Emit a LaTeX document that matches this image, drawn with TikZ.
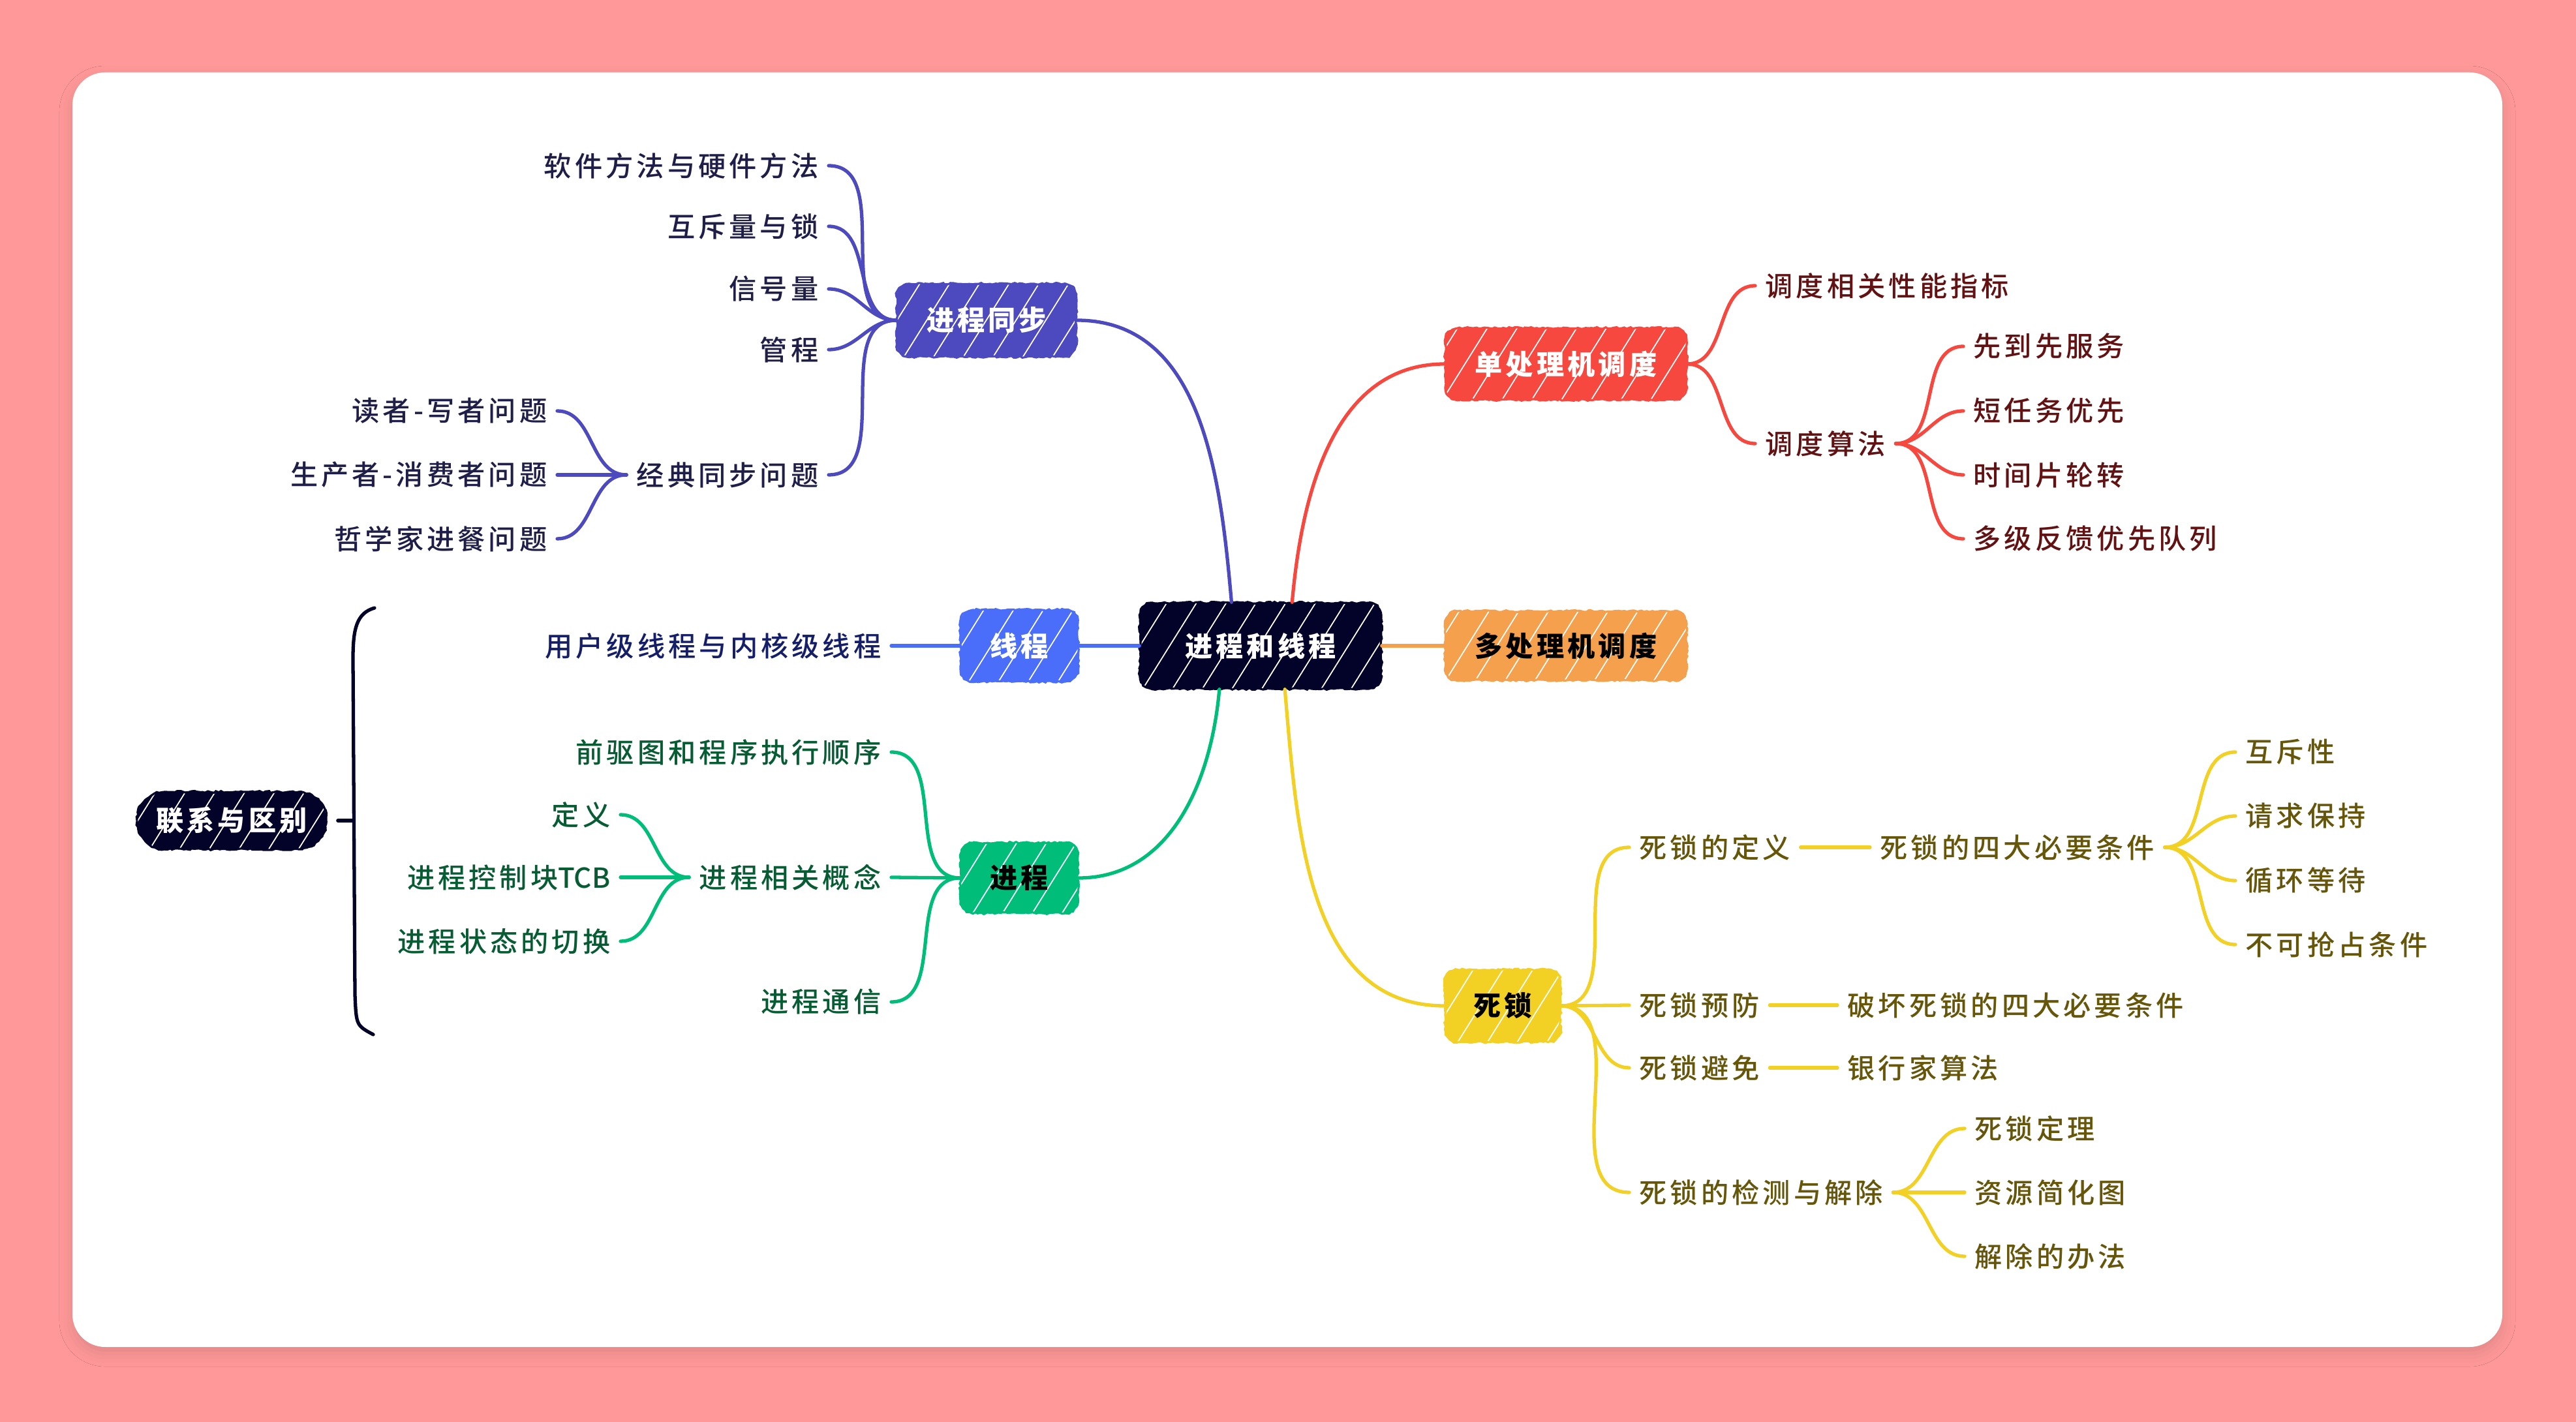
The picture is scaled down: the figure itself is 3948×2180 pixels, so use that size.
\documentclass[tikz,border=0pt]{standalone}
\usepackage{fontspec}
\setmainfont{Noto Sans CJK SC}[LetterSpace=12]
\newfontfamily\leaffont{Noto Sans CJK SC}[UprightFont=* Medium, LetterSpace=12]
\usetikzlibrary{positioning,calc,decorations.pathmorphing,patterns.meta,shadows.blur}
\definecolor{bgPink}{RGB}{255,153,153}
\definecolor{rootInk}{RGB}{3,2,40}
\definecolor{syncC}{RGB}{76,74,190}
\definecolor{syncText}{RGB}{30,30,72}
\definecolor{uniC}{RGB}{247,72,64}
\definecolor{uniText}{RGB}{98,18,18}
\definecolor{multiC}{RGB}{245,160,76}
\definecolor{thrC}{RGB}{74,110,250}
\definecolor{thrText}{RGB}{20,30,105}
\definecolor{procC}{RGB}{0,190,122}
\definecolor{procText}{RGB}{8,92,52}
\definecolor{deadC}{RGB}{242,208,36}
\definecolor{deadText}{RGB}{102,86,10}
\newcommand\topicfont{\fontsize{12pt}{14pt}\selectfont\bfseries}
\newcommand\leafsize{\leaffont\fontsize{12pt}{14pt}\selectfont}

\begin{document}
\begin{tikzpicture}[x=0.01cm, y=0.01cm,
    topic/.style={rectangle, rounded corners=5.5pt, fill=#1, inner sep=0pt, font=\topicfont,
      postaction={fill opacity=0.55, pattern={Lines[angle=58, distance=11pt, line width=0.5pt]},
        pattern color=white},
      postaction={draw=#1, line width=0.9pt, sharp corners, decorate,
        decoration={random steps, segment length=1.2pt, amplitude=0.4pt}}},
    leaf/.style={text=#1, font=\leafsize, inner xsep=0.15cm, inner ysep=0pt},
    link/.style={draw=#1, line width=1.5pt, line cap=round}]
    \pgfmathsetseed{7}
    % --- page and card ---
    \fill[bgPink] (0,0) rectangle (3948,-2180);
    \fill[white, rounded corners=0.5cm,
          blur shadow={shadow xshift=0pt, shadow yshift=-0.1cm, shadow blur radius=0.2cm, shadow opacity=12}]
      (111,-111) rectangle (3835,-2065);
    % --- root and main topics ---
    \node[topic=rootInk, text=white, minimum width=3.7cm, minimum height=1.32cm] (root) at (1932,-990) {进程和线程};
    \node[topic=syncC, text=white, minimum width=2.75cm, minimum height=1.12cm] (sync) at (1512,-491) {进程同步};
    \node[topic=uniC, text=white, minimum width=3.7cm, minimum height=1.1cm] (uni) at (2400,-558) {单处理机调度};
    \node[topic=multiC, text=black, minimum width=3.7cm, minimum height=1.06cm] (multi) at (2400,-990) {多处理机调度};
    \node[topic=thrC, text=white, minimum width=1.8cm, minimum height=1.1cm] (thr) at (1562,-990) {线程};
    \node[topic=procC, text=black, minimum width=1.8cm, minimum height=1.08cm] (proc) at (1562,-1346) {进程};
    \node[topic=deadC, text=black, minimum width=1.77cm, minimum height=1.11cm] (dead) at (2303,-1542) {死锁};
    \node[topic=rootInk, text=white, minimum width=2.9cm, minimum height=0.88cm, rounded corners=12pt,
          decoration={random steps, segment length=2pt, amplitude=1.3pt}] (rel) at (355,-1258) {联系与区别};
    % --- root links ---
    \draw[link=syncC] (sync.east) to[out=0, in=95] ($(root.north west)!0.38!(root.north east)$);
    \draw[link=uniC] ($(root.north west)!0.63!(root.north east)$) to[out=85, in=180] (uni.west);
    \draw[link=multiC] (root.east) -- (multi.west);
    \draw[link=thrC] (thr.east) -- (root.west);
    \draw[link=procC] (proc.east) to[out=0, in=-95] ($(root.south west)!0.33!(root.south east)$);
    \draw[link=deadC] ($(root.south west)!0.6!(root.south east)$) to[out=-85, in=180] (dead.west);
    % --- 进程同步 ---
    \node[leaf=syncText, anchor=east] (s1) at (1270,-254) {软件方法与硬件方法};
    \node[leaf=syncText, anchor=east] (s2) at (1270,-347) {互斥量与锁};
    \node[leaf=syncText, anchor=east] (s3) at (1270,-443) {信号量};
    \node[leaf=syncText, anchor=east] (s4) at (1270,-536) {管程};
    \node[leaf=syncText, anchor=east] (s5) at (1270,-728) {经典同步问题};
    \node[leaf=syncText, anchor=east] (c1) at (854,-630) {读者-写者问题};
    \node[leaf=syncText, anchor=east] (c2) at (854,-728) {生产者-消费者问题};
    \node[leaf=syncText, anchor=east] (c3) at (854,-826) {哲学家进餐问题};
    \draw[link=syncC] (s1.east) to[out=0, in=180] (sync.west);
    \draw[link=syncC] (s2.east) to[out=0, in=180] (sync.west);
    \draw[link=syncC] (s3.east) to[out=0, in=180] (sync.west);
    \draw[link=syncC] (s4.east) to[out=0, in=180] (sync.west);
    \draw[link=syncC] (s5.east) to[out=0, in=180] (sync.west);
    \draw[link=syncC] (c1.east) to[out=0, in=180] (s5.west);
    \draw[link=syncC] (c2.east) -- (s5.west);
    \draw[link=syncC] (c3.east) to[out=0, in=180] (s5.west);
    % --- 线程 ---
    \node[leaf=thrText, anchor=east] (t1) at (1366,-990) {用户级线程与内核级线程};
    \draw[link=thrC] (t1.east) -- (thr.west);
    % --- 进程 ---
    \node[leaf=procText, anchor=east] (p1) at (1366,-1153) {前驱图和程序执行顺序};
    \node[leaf=procText, anchor=east] (p2) at (1366,-1345) {进程相关概念};
    \node[leaf=procText, anchor=east] (p3) at (1366,-1536) {进程通信};
    \node[leaf=procText, anchor=east] (q1) at (951,-1249) {定义};
    \node[leaf=procText, anchor=east] (q2) at (951,-1345) {进程控制块{\addfontfeature{LetterSpace=0}TCB}};
    \node[leaf=procText, anchor=east] (q3) at (951,-1443) {进程状态的切换};
    \draw[link=procC] (p1.east) to[out=0, in=180] (proc.west);
    \draw[link=procC] (p2.east) -- (proc.west);
    \draw[link=procC] (p3.east) to[out=0, in=180] (proc.west);
    \draw[link=procC] (q1.east) to[out=0, in=180] (p2.west);
    \draw[link=procC] (q2.east) -- (p2.west);
    \draw[link=procC] (q3.east) to[out=0, in=180] (p2.west);
    % --- 联系与区别: bracket ---
    \coordinate (brTop) at (574,-932);
    \coordinate (brMid) at (541,-1258);
    \coordinate (brBot) at (572,-1586);
    \draw[link=rootInk] ([xshift=0.17cm]rel.east) -- (brMid);
    \draw[link=rootInk] (brTop) .. controls (546,-940) and (541,-965) .. (541,-1010)
      -- (544,-1525) .. controls (546,-1572) .. (brBot);
    % --- 单处理机调度 ---
    \node[leaf=uniText, anchor=west] (u1) at (2690,-438) {调度相关性能指标};
    \node[leaf=uniText, anchor=west] (u2) at (2690,-680) {调度算法};
    \node[leaf=uniText, anchor=west] (a1) at (3009,-531) {先到先服务};
    \node[leaf=uniText, anchor=west] (a2) at (3009,-630) {短任务优先};
    \node[leaf=uniText, anchor=west] (a3) at (3009,-728) {时间片轮转};
    \node[leaf=uniText, anchor=west] (a4) at (3009,-826) {多级反馈优先队列};
    \draw[link=uniC] (uni.east) to[out=0, in=180] (u1.west);
    \draw[link=uniC] (uni.east) to[out=0, in=180] (u2.west);
    \draw[link=uniC] (u2.east) to[out=0, in=180] (a1.west);
    \draw[link=uniC] (u2.east) to[out=0, in=180] (a2.west);
    \draw[link=uniC] (u2.east) to[out=0, in=180] (a3.west);
    \draw[link=uniC] (u2.east) to[out=0, in=180] (a4.west);
    % --- 死锁 ---
    \node[leaf=deadText, anchor=west] (d1) at (2497,-1299) {死锁的定义};
    \node[leaf=deadText, anchor=west] (d2) at (2497,-1541) {死锁预防};
    \node[leaf=deadText, anchor=west] (d3) at (2497,-1637) {死锁避免};
    \node[leaf=deadText, anchor=west] (d4) at (2497,-1828) {死锁的检测与解除};
    \node[leaf=deadText, anchor=west] (e1) at (2866,-1299) {死锁的四大必要条件};
    \node[leaf=deadText, anchor=west] (e2) at (2816,-1541) {破坏死锁的四大必要条件};
    \node[leaf=deadText, anchor=west] (e3) at (2816,-1637) {银行家算法};
    \node[leaf=deadText, anchor=west] (f1) at (3426,-1153) {互斥性};
    \node[leaf=deadText, anchor=west] (f2) at (3426,-1251) {请求保持};
    \node[leaf=deadText, anchor=west] (f3) at (3426,-1350) {循环等待};
    \node[leaf=deadText, anchor=west] (f4) at (3426,-1448) {不可抢占条件};
    \node[leaf=deadText, anchor=west] (g1) at (3011,-1730) {死锁定理};
    \node[leaf=deadText, anchor=west] (g2) at (3011,-1828) {资源简化图};
    \node[leaf=deadText, anchor=west] (g3) at (3011,-1926) {解除的办法};
    \draw[link=deadC] (dead.east) to[out=0, in=180] (d1.west);
    \draw[link=deadC] (dead.east) -- (d2.west);
    \draw[link=deadC] (dead.east) to[out=0, in=180] (d3.west);
    \draw[link=deadC] (dead.east) to[out=0, in=180] (d4.west);
    \draw[link=deadC] (d1.east) -- (e1.west);
    \draw[link=deadC] (d2.east) -- (e2.west);
    \draw[link=deadC] (d3.east) -- (e3.west);
    \draw[link=deadC] (e1.east) to[out=0, in=180] (f1.west);
    \draw[link=deadC] (e1.east) to[out=0, in=180] (f2.west);
    \draw[link=deadC] (e1.east) to[out=0, in=180] (f3.west);
    \draw[link=deadC] (e1.east) to[out=0, in=180] (f4.west);
    \draw[link=deadC] (d4.east) to[out=0, in=180] (g1.west);
    \draw[link=deadC] (d4.east) -- (g2.west);
    \draw[link=deadC] (d4.east) to[out=0, in=180] (g3.west);
\end{tikzpicture}
\end{document}
